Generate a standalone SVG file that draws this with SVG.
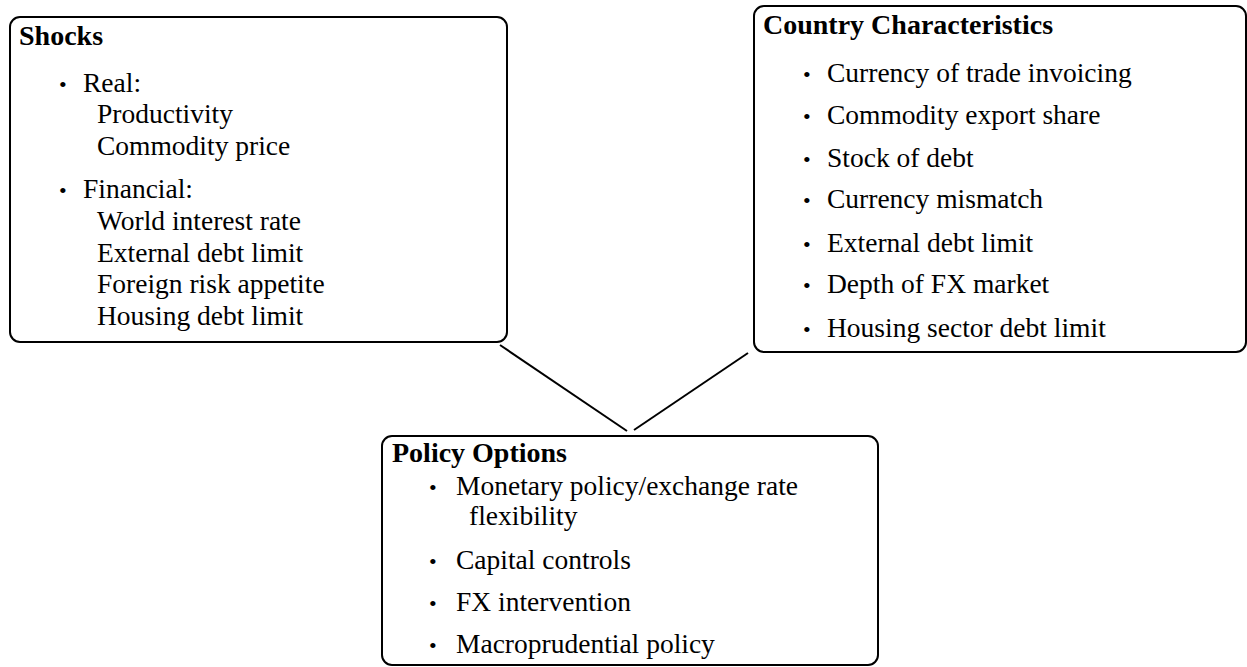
<svg xmlns="http://www.w3.org/2000/svg" width="1247" height="667" viewBox="0 0 1247 667">
<style>
.box{fill:#fff;stroke:#000;stroke-width:2}
.t{font-family:"Liberation Serif","DejaVu Serif",serif;font-size:27.5px;fill:#000}
.h{font-family:"Liberation Serif","DejaVu Serif",serif;font-size:28px;font-weight:bold;fill:#000}
.b{font-family:"Liberation Serif","DejaVu Serif",serif;font-size:22px;fill:#000}
.c{stroke:#000;stroke-width:2;fill:none}
</style>
<rect width="1247" height="667" fill="#fff"/>
<g id="connectors">
<line class="c" x1="500" y1="345" x2="627" y2="431"/>
<line class="c" x1="748" y1="353" x2="634" y2="430"/>
</g>
<g id="shocks">
<rect class="box" x="10" y="17" width="497" height="325" rx="10"/>
<text class="h" x="19" y="45">Shocks</text>
<text class="b" x="59" y="92">•</text>
<text class="t" x="83" y="92">Real:</text>
<text class="t" x="97" y="123">Productivity</text>
<text class="t" x="97" y="155">Commodity price</text>
<text class="b" x="59" y="198">•</text>
<text class="t" x="83" y="198">Financial:</text>
<text class="t" x="97" y="230">World interest rate</text>
<text class="t" x="97" y="262">External debt limit</text>
<text class="t" x="97" y="293">Foreign risk appetite</text>
<text class="t" x="97" y="325">Housing debt limit</text>
</g>
<g id="country">
<rect class="box" x="754" y="6" width="492" height="346" rx="10"/>
<text class="h" x="763" y="34">Country Characteristics</text>
<text class="b" x="803" y="82">•</text><text class="t" x="827" y="82">Currency of trade invoicing</text>
<text class="b" x="803" y="124">•</text><text class="t" x="827" y="124">Commodity export share</text>
<text class="b" x="803" y="167">•</text><text class="t" x="827" y="167">Stock of debt</text>
<text class="b" x="803" y="208">•</text><text class="t" x="827" y="208">Currency mismatch</text>
<text class="b" x="803" y="252">•</text><text class="t" x="827" y="252">External debt limit</text>
<text class="b" x="803" y="293">•</text><text class="t" x="827" y="293">Depth of FX market</text>
<text class="b" x="803" y="337">•</text><text class="t" x="827" y="337">Housing sector debt limit</text>
</g>
<g id="policy">
<rect class="box" x="382" y="436" width="496" height="229" rx="10"/>
<text class="h" x="392" y="462">Policy Options</text>
<text class="b" x="429" y="495">•</text><text class="t" x="456" y="495">Monetary policy/exchange rate</text>
<text class="t" x="469" y="525">flexibility</text>
<text class="b" x="429" y="569">•</text><text class="t" x="456" y="569">Capital controls</text>
<text class="b" x="429" y="611">•</text><text class="t" x="456" y="611">FX intervention</text>
<text class="b" x="429" y="653">•</text><text class="t" x="456" y="653">Macroprudential policy</text>
</g>
</svg>
